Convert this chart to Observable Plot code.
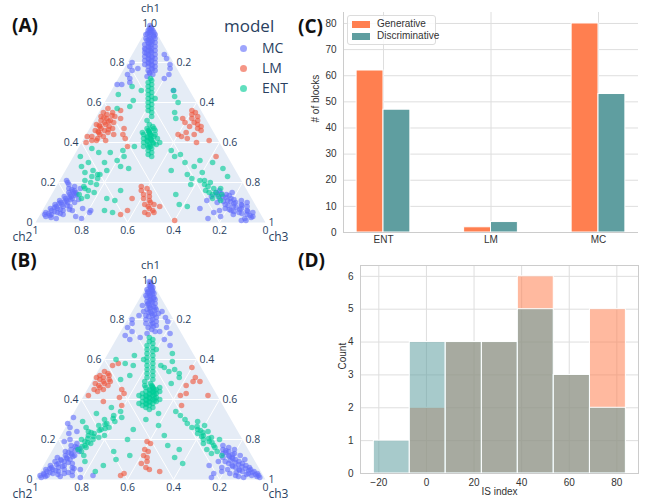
<!DOCTYPE html>
<html><head><meta charset="utf-8">
<script src="https://cdn.jsdelivr.net/npm/d3@7"></script>
<script src="https://cdn.jsdelivr.net/npm/@observablehq/plot@0.6"></script>
<style>
body{margin:0;background:#fff}
#root{position:relative;width:650px;height:501px;overflow:hidden;background:#fff}
.panel{position:absolute}
.tag{position:absolute;font-family:"Open Sans",sans-serif;font-weight:700;font-size:19px;line-height:22px;color:#111}
.tl{position:absolute;font-family:"Open Sans",sans-serif;color:#2a3f5f;white-space:nowrap}
.cl{position:absolute;font-family:"Liberation Sans",Arial,sans-serif;font-size:10px;color:#333;white-space:nowrap}
</style></head><body><div id="root"></div>
<script>
// ---------------- data ----------------
// bar chart (C)
const categories = ["ENT", "LM", "MC"];
const generative = [62, 2, 80];
const discriminative = [47, 4, 53];
const seriesNames = ["Generative", "Discriminative"];
const seriesColors = ["#FF7F50", "#5F9EA0"];
const barTicksY = [0, 10, 20, 30, 40, 50, 60, 70, 80];

// histogram (D)
const histEdges = [-22.1, -7.0, 8.1, 23.3, 38.4, 53.5, 68.7, 83.8];
const histGenerative = [0, 2, 4, 4, 6, 3, 5];
const histDiscriminative = [1, 4, 4, 4, 5, 3, 2];
const histTicksX = [-20, 0, 20, 40, 60, 80];
const histTicksY = [0, 1, 2, 3, 4, 5, 6];

// ternary (A, B): each point is [ch1, ch3]; ch2 = 1 - ch1 - ch3
const models = ["MC", "LM", "ENT"];
const modelColors = ["#636EFA", "#EF553B", "#00CC96"];
const ternGrid = [0.2, 0.4, 0.6, 0.8];
const ch1Ticks = [0, 0.2, 0.4, 0.6, 0.8];
const ch3Ticks = [0.2, 0.4, 0.6, 0.8, 1];
const ch2Ticks = [0, 0.2, 0.4, 0.6, 0.8, 1];

const A_MC = [[0.97,0.01],[0.97,0.02],[0.96,0.02],[0.96,0.03],[0.96,0.01],[0.95,0.02],[0.95,0.04],[0.94,0.03],[0.94,0.01],[0.94,0.05],[0.93,0.03],[0.93,0.05],[0.92,0.04],[0.92,0.02],[0.92,0.06],[0.91,0.05],[0.91,0.03],[0.90,0.04],[0.90,0.07],[0.90,0.05],[0.89,0.06],[0.89,0.03],[0.88,0.05],[0.88,0.08],[0.88,0.06],[0.87,0.07],[0.87,0.04],[0.86,0.06],[0.86,0.09],[0.86,0.07],[0.85,0.08],[0.85,0.05],[0.84,0.07],[0.84,0.10],[0.83,0.09],[0.83,0.06],[0.82,0.08],[0.82,0.11],[0.81,0.10],[0.81,0.07],[0.80,0.09],[0.80,0.12],[0.79,0.11],[0.79,0.08],[0.78,0.10],[0.78,0.13],[0.77,0.12],[0.76,0.11],[0.76,0.14],[0.75,0.12],[0.74,0.14],[0.73,0.12],
[0.955,0.025],[0.945,0.015],[0.935,0.045],[0.915,0.035],[0.905,0.055],[0.895,0.045],[0.875,0.055],[0.865,0.045],[0.855,0.075],[0.845,0.06],[0.835,0.075],[0.825,0.095],[0.815,0.085],[0.805,0.1],[0.795,0.095],[0.785,0.115],[0.765,0.125],[0.745,0.125],[0.975,0.015],[0.985,0.005],
[0.80,0.02],[0.78,0.02],[0.76,0.04],[0.74,0.03],[0.72,0.05],[0.70,0.06],[0.69,0.03],[0.77,0.06],[0.69,0.01],
[0.84,0.14],[0.82,0.16],[0.79,0.19],[0.77,0.20],[0.74,0.21],[0.72,0.20],[0.66,0.27],
[0.03,0.03],[0.04,0.05],[0.05,0.02],[0.05,0.07],[0.06,0.04],[0.06,0.09],[0.07,0.03],[0.07,0.06],[0.08,0.05],[0.08,0.08],[0.08,0.11],[0.09,0.04],[0.09,0.07],[0.10,0.06],[0.10,0.09],[0.10,0.12],[0.11,0.05],[0.11,0.08],[0.12,0.07],[0.12,0.10],[0.13,0.06],[0.13,0.09],[0.14,0.08],[0.14,0.11],[0.15,0.07],[0.15,0.10],[0.16,0.09],[0.17,0.06],[0.17,0.11],[0.18,0.08],[0.19,0.05],[0.20,0.04],[0.21,0.03],[0.04,0.10],[0.06,0.13],[0.03,0.16],[0.02,0.19],[0.07,0.17],[0.05,0.21],[0.06,0.21],[0.02,0.08],[0.04,0.02],
[0.035,0.045],[0.045,0.035],[0.055,0.055],[0.065,0.075],[0.075,0.045],[0.085,0.095],[0.095,0.055],[0.105,0.075],[0.115,0.095],[0.125,0.085],[0.135,0.105],[0.145,0.095],[0.155,0.085],[0.165,0.075],[0.025,0.055],[0.045,0.085],[0.065,0.115],[0.115,0.13],
[0.03,0.93],[0.04,0.90],[0.05,0.92],[0.05,0.86],[0.06,0.89],[0.06,0.82],[0.07,0.86],[0.07,0.79],[0.08,0.88],[0.08,0.82],[0.09,0.85],[0.09,0.78],[0.10,0.82],[0.10,0.74],[0.11,0.78],[0.11,0.84],[0.12,0.74],[0.12,0.79],[0.13,0.75],[0.13,0.70],[0.14,0.76],[0.15,0.71],[0.15,0.78],[0.16,0.72],[0.04,0.84],[0.03,0.79],[0.02,0.90],[0.06,0.77],[0.10,0.87],[0.02,0.74],[0.05,0.75],[0.01,0.89],[0.11,0.69],[0.07,0.68],[0.01,0.91],
[0.035,0.915],[0.045,0.875],[0.055,0.895],[0.065,0.855],[0.075,0.835],[0.085,0.855],[0.095,0.815],[0.105,0.795],[0.115,0.805],[0.125,0.765],[0.135,0.775],[0.145,0.735],[0.025,0.925],[0.055,0.835],[0.085,0.795],[0.105,0.765],[0.14,0.72],[0.065,0.81]];
const A_LM = [[0.57,0.03],[0.55,0.02],[0.55,0.06],[0.54,0.04],[0.53,0.08],[0.53,0.02],[0.52,0.05],[0.51,0.03],[0.51,0.07],[0.50,0.05],[0.50,0.09],[0.49,0.02],[0.49,0.06],[0.48,0.04],[0.48,0.08],[0.47,0.05],[0.47,0.10],[0.46,0.03],[0.46,0.07],[0.45,0.05],[0.45,0.09],[0.44,0.06],[0.43,0.03],[0.43,0.08],[0.42,0.06],[0.41,0.04],[0.40,0.02],[0.52,0.11],[0.44,0.12],[0.41,0.10],[0.56,0.09],
[0.525,0.035],[0.505,0.065],[0.485,0.035],[0.465,0.085],[0.455,0.045],[0.535,0.065],
[0.47,0.15],[0.42,0.18],[0.38,0.21],[0.44,0.16],[0.43,0.01],[0.41,0.06],
[0.56,0.40],[0.55,0.42],[0.54,0.41],[0.53,0.44],[0.52,0.42],[0.51,0.45],[0.50,0.44],[0.49,0.46],[0.48,0.48],[0.47,0.47],[0.50,0.40],[0.46,0.49],[0.45,0.43],[0.44,0.40],[0.43,0.42],[0.42,0.45],[0.44,0.47],[0.41,0.55],[0.40,0.50],[0.33,0.62],[0.52,0.38],[0.48,0.43],
[0.18,0.37],[0.17,0.40],[0.16,0.38],[0.15,0.42],[0.14,0.40],[0.13,0.43],[0.12,0.41],[0.11,0.44],[0.10,0.45],[0.09,0.43],[0.09,0.47],[0.08,0.45],[0.07,0.46],[0.06,0.48],[0.05,0.45],[0.05,0.49],[0.04,0.47],[0.06,0.37],[0.04,0.35],[0.01,0.60],[0.12,0.36],[0.08,0.50]];
const A_ENT = [[0.49,0.25],[0.48,0.27],[0.47,0.25],[0.47,0.28],[0.46,0.26],[0.46,0.29],[0.45,0.27],[0.45,0.24],[0.44,0.28],[0.44,0.30],[0.43,0.27],[0.43,0.30],[0.42,0.29],[0.42,0.26],[0.41,0.30],[0.41,0.28],[0.40,0.31],[0.40,0.27],[0.39,0.30],[0.39,0.33],[0.38,0.31],[0.38,0.28],[0.37,0.32],[0.36,0.31],[0.35,0.33],[0.34,0.32],[0.33,0.34],[0.40,0.34],[0.44,0.25],[0.42,0.32],
[0.455,0.265],[0.435,0.285],[0.425,0.275],[0.415,0.295],[0.405,0.285],[0.395,0.315],[0.385,0.295],[0.445,0.275],[0.375,0.305],[0.465,0.265],
[0.72,0.14],[0.71,0.15],[0.70,0.14],[0.69,0.16],[0.68,0.15],[0.67,0.17],[0.66,0.16],[0.65,0.18],[0.64,0.17],[0.63,0.19],[0.62,0.18],[0.61,0.20],[0.60,0.19],[0.59,0.21],[0.58,0.20],[0.57,0.22],[0.56,0.21],[0.55,0.23],[0.53,0.24],[0.51,0.23],[0.62,0.21],[0.66,0.13],
[0.64,0.04],[0.61,0.12],[0.63,0.29],[0.60,0.32],[0.68,0.08],[0.66,0.27],[0.58,0.12],[0.55,0.33],[0.57,0.07],[0.52,0.35],
[0.26,0.18],[0.31,0.20],[0.38,0.24],[0.35,0.15],[0.28,0.23],[0.33,0.22],[0.24,0.16],[0.30,0.15],[0.36,0.20],[0.27,0.27],
[0.33,0.44],[0.24,0.54],[0.21,0.61],[0.34,0.46],[0.28,0.55],[0.26,0.46],[0.30,0.50],[0.22,0.57],[0.25,0.60],[0.31,0.56],[0.36,0.41],[0.19,0.58],
[0.18,0.66],[0.15,0.71],[0.17,0.69],[0.16,0.66],[0.14,0.70],[0.13,0.73],[0.19,0.64],[0.20,0.66],[0.15,0.68],[0.12,0.71],[0.14,0.74],[0.17,0.72],[0.21,0.63],[0.11,0.75],
[0.18,0.12],[0.23,0.13],[0.14,0.12],[0.24,0.15],[0.13,0.16],[0.20,0.14],[0.16,0.15],[0.21,0.11],[0.19,0.17],[0.15,0.18],[0.22,0.16],[0.17,0.13],[0.26,0.12],[0.12,0.14],
[0.06,0.27],[0.11,0.29],[0.16,0.29],[0.14,0.54],[0.08,0.62],[0.05,0.31],[0.09,0.58],[0.12,0.25],
[0.33,0.03],[0.30,0.08],[0.37,0.06],[0.28,0.06],[0.25,0.09],[0.35,0.10],[0.23,0.72],[0.27,0.68],[0.30,0.62]];

const B_MC = [[0.99,0.00],[0.98,0.01],[0.97,0.02],[0.97,0.01],[0.96,0.02],[0.96,0.03],[0.95,0.01],[0.95,0.03],[0.94,0.02],[0.94,0.04],[0.93,0.03],[0.93,0.05],[0.92,0.02],[0.92,0.04],[0.91,0.06],[0.91,0.03],[0.90,0.05],[0.90,0.07],[0.89,0.04],[0.89,0.06],[0.88,0.05],[0.88,0.08],[0.87,0.06],[0.87,0.03],[0.86,0.07],[0.86,0.09],[0.85,0.06],[0.85,0.10],[0.84,0.08],[0.84,0.05],[0.83,0.09],[0.83,0.12],[0.82,0.07],[0.82,0.10],[0.81,0.12],[0.80,0.08],[0.80,0.11],[0.79,0.13],[0.78,0.09],[0.78,0.12],[0.77,0.14],[0.76,0.11],[0.75,0.13],[0.74,0.15],[0.73,0.12],
[0.985,0.008],[0.965,0.018],[0.955,0.025],[0.945,0.035],[0.935,0.02],[0.925,0.045],[0.915,0.04],[0.905,0.06],[0.895,0.05],[0.885,0.065],[0.875,0.05],[0.865,0.08],[0.855,0.07],[0.845,0.095],[0.835,0.075],[0.825,0.105],[0.815,0.085],[0.795,0.105],[0.775,0.115],[0.765,0.13],
[0.80,0.02],[0.78,0.03],[0.76,0.02],[0.74,0.05],[0.72,0.03],[0.70,0.06],[0.82,0.04],[0.71,0.10],
[0.84,0.13],[0.81,0.16],[0.79,0.18],[0.76,0.19],[0.73,0.22],[0.70,0.21],[0.67,0.25],[0.74,0.17],
[0.01,0.02],[0.02,0.01],[0.02,0.04],[0.03,0.02],[0.03,0.06],[0.04,0.03],[0.04,0.08],[0.05,0.05],[0.05,0.02],[0.05,0.10],[0.06,0.04],[0.06,0.07],[0.07,0.03],[0.07,0.09],[0.08,0.06],[0.08,0.12],[0.09,0.04],[0.09,0.08],[0.10,0.06],[0.10,0.10],[0.11,0.08],[0.11,0.04],[0.12,0.07],[0.12,0.11],[0.13,0.09],[0.14,0.06],[0.14,0.12],[0.15,0.08],[0.16,0.10],[0.17,0.07],[0.18,0.09],[0.03,0.11],[0.02,0.15],[0.04,0.14],[0.01,0.19],[0.05,0.17],[0.02,0.24],[0.06,0.13],[0.20,0.05],[0.23,0.03],[0.26,0.02],[0.28,0.00],[0.31,0.01],[0.24,0.06],[0.19,0.03],
[0.015,0.035],[0.025,0.025],[0.035,0.045],[0.045,0.065],[0.055,0.035],[0.065,0.085],[0.075,0.055],[0.085,0.1],[0.095,0.065],[0.105,0.085],[0.115,0.105],[0.125,0.095],[0.135,0.075],[0.145,0.1],[0.155,0.115],[0.025,0.085],[0.035,0.125],[0.015,0.1],[0.165,0.09],[0.055,0.14],
[0.01,0.97],[0.02,0.96],[0.02,0.93],[0.03,0.95],[0.03,0.91],[0.04,0.93],[0.04,0.88],[0.05,0.91],[0.05,0.86],[0.06,0.90],[0.06,0.84],[0.07,0.88],[0.07,0.82],[0.08,0.86],[0.08,0.80],[0.09,0.84],[0.09,0.78],[0.10,0.82],[0.10,0.86],[0.11,0.80],[0.11,0.76],[0.12,0.78],[0.13,0.80],[0.13,0.75],[0.14,0.77],[0.15,0.74],[0.16,0.76],[0.02,0.86],[0.03,0.83],[0.01,0.90],[0.04,0.79],[0.05,0.81],[0.06,0.78],[0.12,0.83],[0.15,0.79],[0.17,0.73],[0.01,0.76],[0.03,0.76],[0.07,0.72],
[0.015,0.955],[0.025,0.945],[0.025,0.905],[0.035,0.925],[0.045,0.905],[0.045,0.865],[0.055,0.885],[0.065,0.865],[0.065,0.825],[0.075,0.845],[0.085,0.825],[0.095,0.8],[0.105,0.805],[0.115,0.785],[0.125,0.795],[0.135,0.76],[0.015,0.875],[0.035,0.855],[0.145,0.755],[0.09,0.75]];
const B_LM = [[0.54,0.03],[0.53,0.05],[0.52,0.02],[0.52,0.06],[0.51,0.04],[0.50,0.03],[0.50,0.07],[0.49,0.05],[0.48,0.02],[0.48,0.06],[0.47,0.04],[0.47,0.08],[0.46,0.05],[0.45,0.03],[0.45,0.07],[0.49,0.08],[0.51,0.01],[0.44,0.05],
[0.42,0.02],[0.57,0.05],[0.58,0.07],[0.43,0.17],[0.45,0.15],[0.37,0.19],[0.39,0.10],[0.41,0.16],
[0.56,0.40],[0.49,0.47],[0.42,0.54],[0.42,0.42],[0.47,0.42],[0.51,0.44],[0.49,0.44],[0.43,0.44],[0.37,0.45],
[0.19,0.39],[0.18,0.41],[0.15,0.40],[0.14,0.42],[0.12,0.41],[0.09,0.44],[0.08,0.42],[0.06,0.45],[0.05,0.47],[0.03,0.37],[0.02,0.36],[0.04,0.52],[0.11,0.43]];
const B_ENT = [[0.48,0.26],[0.47,0.27],[0.47,0.24],[0.46,0.28],[0.46,0.25],[0.45,0.27],[0.45,0.30],[0.44,0.26],[0.44,0.29],[0.43,0.28],[0.43,0.25],[0.43,0.31],[0.42,0.27],[0.42,0.30],[0.41,0.29],[0.41,0.26],[0.41,0.32],[0.40,0.28],[0.40,0.31],[0.39,0.30],[0.39,0.27],[0.39,0.33],[0.38,0.29],[0.38,0.32],[0.37,0.31],[0.37,0.28],[0.36,0.33],[0.36,0.30],[0.35,0.32],[0.44,0.32],[0.42,0.24],[0.40,0.34],[0.46,0.31],[0.38,0.26],
[0.455,0.285],[0.445,0.275],[0.435,0.295],[0.425,0.285],[0.415,0.275],[0.405,0.295],[0.395,0.285],[0.385,0.305],[0.425,0.305],[0.445,0.295],[0.375,0.295],[0.405,0.315],[0.465,0.275],[0.395,0.32],
[0.71,0.14],[0.70,0.16],[0.69,0.15],[0.68,0.17],[0.67,0.15],[0.66,0.18],[0.65,0.16],[0.64,0.19],[0.63,0.17],[0.62,0.20],[0.61,0.18],[0.60,0.21],[0.59,0.19],[0.58,0.22],[0.57,0.20],[0.56,0.23],[0.55,0.21],[0.54,0.24],[0.53,0.22],[0.52,0.25],[0.51,0.23],[0.50,0.26],[0.49,0.23],[0.65,0.20],[0.60,0.17],
[0.60,0.05],[0.58,0.10],[0.62,0.12],[0.57,0.14],[0.63,0.28],[0.59,0.30],[0.55,0.33],[0.53,0.36],[0.56,0.28],[0.52,0.15],[0.50,0.12],[0.54,0.31],[0.51,0.37],[0.48,0.35],[0.57,0.26],
[0.17,0.13],[0.20,0.15],[0.25,0.16],[0.28,0.17],[0.32,0.18],[0.22,0.12],[0.15,0.11],[0.19,0.12],[0.23,0.14],[0.26,0.19],[0.30,0.15],[0.21,0.17],[0.18,0.15],[0.24,0.11],[0.27,0.14],[0.29,0.20],[0.16,0.14],[0.31,0.22],[0.34,0.20],[0.20,0.10],[0.14,0.13],[0.22,0.19],[0.26,0.09],[0.29,0.06],[0.33,0.10],[0.36,0.15],[0.12,0.15],[0.09,0.17],
[0.185,0.135],[0.215,0.145],[0.245,0.155],[0.275,0.165],[0.235,0.125],[0.205,0.125],[0.165,0.12],[0.255,0.175],[0.305,0.185],
[0.28,0.52],[0.23,0.59],[0.20,0.63],[0.17,0.69],[0.26,0.55],[0.25,0.58],[0.22,0.62],[0.19,0.66],[0.16,0.70],[0.14,0.72],[0.30,0.50],[0.32,0.47],[0.27,0.60],[0.21,0.66],[0.18,0.64],[0.24,0.63],[0.15,0.67],[0.12,0.75],[0.29,0.56],[0.34,0.44],[0.20,0.70],[0.13,0.70],
[0.265,0.57],[0.235,0.61],[0.205,0.65],[0.185,0.675],[0.245,0.595],[0.215,0.615],
[0.10,0.30],[0.14,0.27],[0.20,0.30],[0.25,0.30],[0.30,0.33],[0.07,0.26],[0.12,0.35],[0.17,0.49],[0.11,0.55],[0.08,0.60],[0.22,0.45],[0.27,0.40],[0.33,0.37],[0.04,0.24],[0.15,0.55]];

// ---------------- layout helpers ----------------
const root = document.getElementById("root");
function place(node, left, top) {
  const d = document.createElement("div");
  d.className = "panel"; d.style.left = left + "px"; d.style.top = top + "px";
  d.appendChild(node); root.appendChild(d); return d;
}
function html(cls, text, left, top, extra) {
  const d = document.createElement("div");
  d.className = cls; d.textContent = text;
  d.style.left = left + "px"; d.style.top = top + "px";
  if (extra) Object.assign(d.style, extra);
  root.appendChild(d); return d;
}

// ---------------- ternary ----------------
const SQ = Math.sqrt(3) / 2;
const T = (a, c) => ({x: c + a / 2, y: a * SQ}); // a = ch1, c = ch3
const fmt = v => v === 0 ? "0" : v === 1 ? "1" : v.toFixed(1);

function ternary(sets) {
  const tri = [T(1, 0), T(0, 0), T(0, 1), T(1, 0)];
  const segs = ternGrid.flatMap(v => [
    [T(v, 0), T(v, 1 - v)],
    [T(1 - v, v), T(0, v)],
    [T(1 - v, 0), T(0, 1 - v)]
  ]);
  const tickStyle = {fontSize: 10.5};
  return Plot.plot({
    width: 330, height: 250, margin: 0,
    x: {domain: [0, 1], range: [35, 265], axis: null},
    y: {domain: [0, SQ], range: [222, 22], axis: null},
    style: {fontFamily: "Open Sans, sans-serif", fontSize: "10.5px", color: "#2a3f5f", background: "transparent", overflow: "visible"},
    marks: [
      Plot.line(tri, {x: "x", y: "y", fill: "#E5ECF6", stroke: "none"}),
      Plot.link(segs, {x1: d => d[0].x, y1: d => d[0].y, x2: d => d[1].x, y2: d => d[1].y, stroke: "white", strokeWidth: 1}),
      ...models.map((m, i) => Plot.dot(sets[i], {
        x: d => T(d[0], d[1]).x, y: d => T(d[0], d[1]).y,
        r: 2.8, fill: modelColors[i], fillOpacity: 0.62, stroke: "none"
      })),
      Plot.text(ch1Ticks, {x: v => T(v, 0).x, y: v => T(v, 0).y, text: fmt, textAnchor: "end", dx: -3, ...tickStyle}),
      Plot.text(["1.0"], {x: () => T(1, 0).x, y: () => T(1, 0).y, text: d => d, dx: -1, dy: 1, ...tickStyle}),
      Plot.text(ch3Ticks, {x: v => T(1 - v, v).x, y: v => T(1 - v, v).y, text: fmt, textAnchor: "start", dx: 3, ...tickStyle}),
      Plot.text(ch2Ticks, {x: v => T(0, 1 - v).x, y: v => T(0, 1 - v).y, text: fmt, dy: 8, ...tickStyle}),
      Plot.text(["ch1"], {x: () => T(1, 0).x, y: () => T(1, 0).y, text: d => d, dy: -14, fontSize: 11.5}),
      Plot.text(["ch2"], {x: () => T(0, 0).x, y: () => T(0, 0).y, text: d => d, dx: -13, dy: 15, fontSize: 12}),
      Plot.text(["ch3"], {x: () => T(0, 1).x, y: () => T(0, 1).y, text: d => d, dx: 13, dy: 15, fontSize: 12})
    ]
  });
}

place(ternary([A_MC, A_LM, A_ENT]), 0, 0);
place(ternary([B_MC, B_LM, B_ENT]), 0, 257);

// legend for (A)
html("tl", "model", 224, 15, {fontSize: "17px", lineHeight: "22px"});
models.forEach((m, i) => {
  const y = 48 + i * 20;
  html("tl", "", 240, y - 3.5, {width: "7px", height: "7px", borderRadius: "50%", background: modelColors[i], opacity: 0.62});
  html("tl", m, 262, y - 9, {fontSize: "14px", lineHeight: "18px"});
});

// ---------------- bar chart (C) ----------------
const xDomC = [-0.372, 2.372];
const barRows = categories.flatMap((c, i) => [
  {i, s: 0, v: generative[i]},
  {i, s: 1, v: discriminative[i]}
]);
const cStyle = {fontFamily: "Liberation Sans, Arial, sans-serif", fontSize: "10px", color: "#333", background: "transparent", overflow: "visible"};
const chartC = Plot.plot({
  width: 345, height: 250, marginLeft: 38, marginRight: 12, marginTop: 12, marginBottom: 18,
  x: {domain: xDomC, axis: null},
  y: {domain: [0, 84.2], axis: null},
  style: cStyle,
  marks: [
    Plot.ruleY(barTicksY, {stroke: "#dedede", strokeWidth: 1}),
    Plot.ruleX(categories.map((c, i) => i), {stroke: "#dedede", strokeWidth: 1}),
    Plot.rect(barRows, {
      x1: d => d.i - 0.25 + d.s * 0.25, x2: d => d.i + d.s * 0.25,
      y1: () => 0, y2: d => d.v,
      fill: d => seriesColors[d.s], stroke: "white", strokeWidth: 1
    }),
    Plot.ruleX([xDomC[0]], {stroke: "#cccccc", strokeWidth: 1}),
    Plot.ruleY([0], {stroke: "#cccccc", strokeWidth: 1}),
    Plot.text(categories.map((c, i) => i), {x: d => d, text: i => categories[i], frameAnchor: "bottom", dy: 10}),
    Plot.text(barTicksY, {y: d => d, text: d => String(d), frameAnchor: "left", textAnchor: "end", dx: -7}),
    Plot.text(["# of blocks"], {text: d => d, frameAnchor: "left", rotate: -90, dx: -28})
  ]
});
place(chartC, 305, 0);

// legend for (C)
html("cl", "", 347, 15, {width: "89px", height: "30px", border: "1px solid #dcdcdc", borderRadius: "3px", background: "rgba(255,255,255,0.85)", boxSizing: "border-box"});
seriesNames.forEach((n, i) => {
  const y = 24 + i * 12;
  html("cl", "", 352, y - 3, {width: "18px", height: "7px", background: seriesColors[i]});
  html("cl", n, 377, y - 6, {lineHeight: "12px"});
});

// ---------------- histogram (D) ----------------
const histRows = counts => counts.map((n, i) => ({x1: histEdges[i], x2: histEdges[i + 1], n}));
const chartD = Plot.plot({
  width: 345, height: 251, marginLeft: 55, marginRight: 12, marginTop: 15, marginBottom: 28,
  x: {domain: [-27.7, 89.1], axis: null},
  y: {domain: [0, 6.33], axis: null},
  style: cStyle,
  marks: [
    Plot.ruleX(histTicksX, {stroke: "#dedede", strokeWidth: 1}),
    Plot.ruleY(histTicksY, {stroke: "#dedede", strokeWidth: 1}),
    Plot.rect(histRows(histGenerative), {x1: "x1", x2: "x2", y1: () => 0, y2: "n", fill: seriesColors[0], fillOpacity: 0.55, stroke: "white", strokeWidth: 1}),
    Plot.rect(histRows(histDiscriminative), {x1: "x1", x2: "x2", y1: () => 0, y2: "n", fill: seriesColors[1], fillOpacity: 0.55, stroke: "white", strokeWidth: 1}),
    Plot.frame({stroke: "#cccccc", strokeWidth: 1}),
    Plot.text(histTicksX, {x: d => d, text: d => d < 0 ? "\u2212" + Math.abs(d) : String(d), frameAnchor: "bottom", dy: 12}),
    Plot.text(histTicksY, {y: d => d, text: d => String(d), frameAnchor: "left", textAnchor: "end", dx: -7}),
    Plot.text(["Count"], {text: d => d, frameAnchor: "left", rotate: -90, dx: -18}),
    Plot.text(["IS index"], {text: d => d, frameAnchor: "bottom", dy: 21})
  ]
});
place(chartD, 305, 250);

// panel tags
html("tag", "(A)", 12, 14);
html("tag", "(B)", 11, 249);
html("tag", "(C)", 298, 15);
html("tag", "(D)", 298, 249);
</script>
</body></html>
